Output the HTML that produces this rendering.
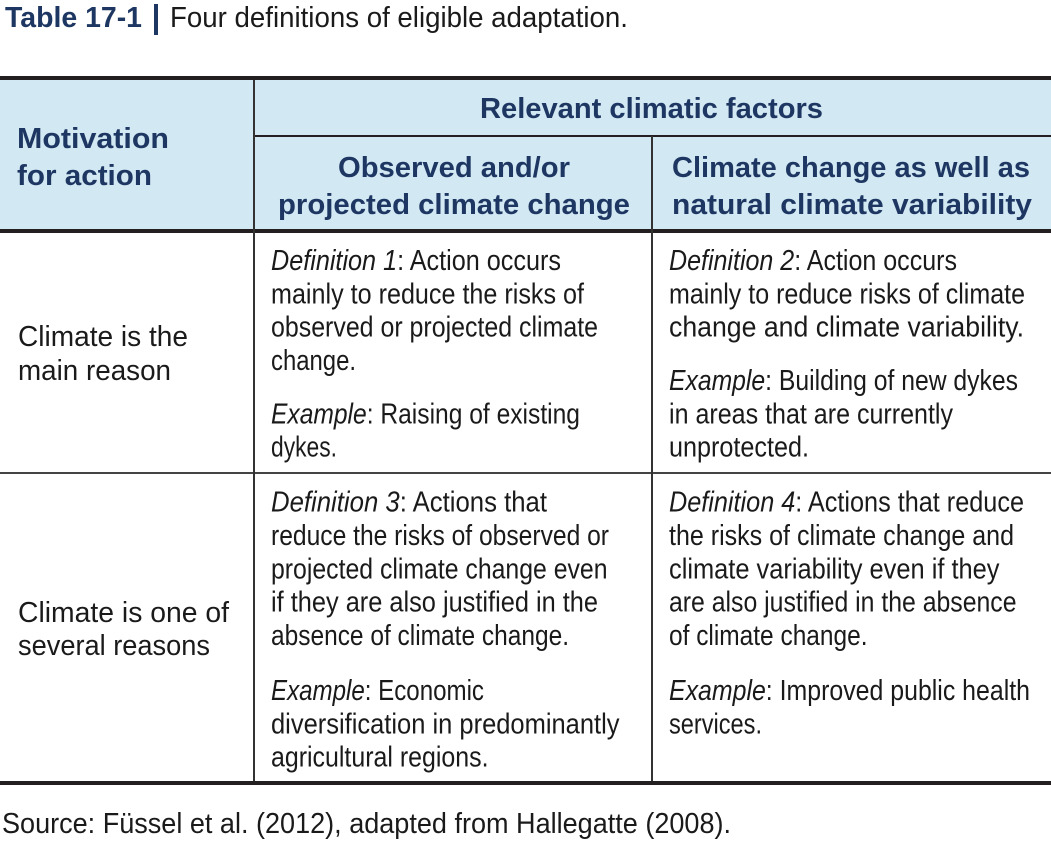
<!DOCTYPE html>
<html>
<head>
<meta charset="utf-8">
<style>
  html,body{margin:0;padding:0;background:#fff;}
  svg{display:block;}
  .b{font-family:"Liberation Sans",Arial,sans-serif;font-weight:bold;fill:#1e3762;font-size:29px;}
  .r{font-family:"Liberation Sans",Arial,sans-serif;fill:#1a1a1a;font-size:29px;}
  .i{font-style:italic;}
</style>
</head>
<body>
<svg width="1051" height="843" viewBox="0 0 1051 843" xmlns="http://www.w3.org/2000/svg">
  <!-- Title -->
  <text class="b" x="5" y="27" font-size="28" textLength="137" lengthAdjust="spacingAndGlyphs">Table 17-1</text>
  <rect x="154" y="4" width="4" height="31" fill="#1e3762"/>
  <text class="r" x="170" y="27" textLength="458" lengthAdjust="spacingAndGlyphs">Four definitions of eligible adaptation.</text>

  <!-- Header background -->
  <rect x="0" y="80" width="1051" height="150" fill="#d2e8f3"/>

  <!-- Lines -->
  <rect x="0" y="76" width="1051" height="4" fill="#231f20"/>
  <rect x="0" y="229" width="1051" height="4" fill="#231f20"/>
  <rect x="0" y="781" width="1051" height="4" fill="#231f20"/>
  <rect x="254" y="135" width="797" height="2" fill="#231f20"/>
  <rect x="0" y="472" width="1051" height="2" fill="#444"/>
  <rect x="253" y="80" width="2" height="701" fill="#333"/>
  <rect x="651" y="136" width="2" height="645" fill="#333"/>

  <!-- Header text -->
  <text class="b" x="17" y="148" textLength="152" lengthAdjust="spacingAndGlyphs">Motivation</text>
  <text class="b" x="17" y="185" textLength="135" lengthAdjust="spacingAndGlyphs">for action</text>
  <text class="b" x="480" y="118" textLength="343" lengthAdjust="spacingAndGlyphs">Relevant climatic factors</text>
  <text class="b" x="338" y="177" textLength="232" lengthAdjust="spacingAndGlyphs">Observed and/or</text>
  <text class="b" x="278" y="214" textLength="352" lengthAdjust="spacingAndGlyphs">projected climate change</text>
  <text class="b" x="672" y="177" textLength="358" lengthAdjust="spacingAndGlyphs">Climate change as well as</text>
  <text class="b" x="672" y="214" textLength="360" lengthAdjust="spacingAndGlyphs">natural climate variability</text>

  <!-- Row 1 label -->
  <text class="r" x="18" y="346" textLength="170" lengthAdjust="spacingAndGlyphs">Climate is the</text>
  <text class="r" x="18" y="380" textLength="153" lengthAdjust="spacingAndGlyphs">main reason</text>

  <!-- Row 1 col 2 -->
  <text class="r" x="271" y="270" textLength="290" lengthAdjust="spacingAndGlyphs"><tspan class="i">Definition 1</tspan>: Action occurs</text>
  <text class="r" x="271" y="303.3" textLength="313" lengthAdjust="spacingAndGlyphs">mainly to reduce the risks of</text>
  <text class="r" x="271" y="336.7" textLength="327" lengthAdjust="spacingAndGlyphs">observed or projected climate</text>
  <text class="r" x="271" y="370" textLength="85" lengthAdjust="spacingAndGlyphs">change.</text>
  <text class="r" x="271" y="423.3" textLength="309" lengthAdjust="spacingAndGlyphs"><tspan class="i">Example</tspan>: Raising of existing</text>
  <text class="r" x="271" y="456.7" textLength="66" lengthAdjust="spacingAndGlyphs">dykes.</text>

  <!-- Row 1 col 3 -->
  <text class="r" x="669" y="270" textLength="288" lengthAdjust="spacingAndGlyphs"><tspan class="i">Definition 2</tspan>: Action occurs</text>
  <text class="r" x="669" y="303.3" textLength="356" lengthAdjust="spacingAndGlyphs">mainly to reduce risks of climate</text>
  <text class="r" x="669" y="336.7" textLength="355" lengthAdjust="spacingAndGlyphs">change and climate variability.</text>
  <text class="r" x="669" y="390" textLength="349" lengthAdjust="spacingAndGlyphs"><tspan class="i">Example</tspan>: Building of new dykes</text>
  <text class="r" x="669" y="423.3" textLength="284" lengthAdjust="spacingAndGlyphs">in areas that are currently</text>
  <text class="r" x="669" y="456.7" textLength="140" lengthAdjust="spacingAndGlyphs">unprotected.</text>

  <!-- Row 2 label -->
  <text class="r" x="18" y="622" textLength="211" lengthAdjust="spacingAndGlyphs">Climate is one of</text>
  <text class="r" x="18" y="655" textLength="192" lengthAdjust="spacingAndGlyphs">several reasons</text>

  <!-- Row 2 col 2 -->
  <text class="r" x="271" y="511.7" textLength="276" lengthAdjust="spacingAndGlyphs"><tspan class="i">Definition 3</tspan>: Actions that</text>
  <text class="r" x="271" y="545" textLength="338" lengthAdjust="spacingAndGlyphs">reduce the risks of observed or</text>
  <text class="r" x="271" y="578.3" textLength="336.5" lengthAdjust="spacingAndGlyphs">projected climate change even</text>
  <text class="r" x="271" y="611.7" textLength="327" lengthAdjust="spacingAndGlyphs">if they are also justified in the</text>
  <text class="r" x="271" y="645" textLength="298" lengthAdjust="spacingAndGlyphs">absence of climate change.</text>
  <text class="r" x="271" y="700" textLength="213" lengthAdjust="spacingAndGlyphs"><tspan class="i">Example</tspan>: Economic</text>
  <text class="r" x="271" y="733.3" textLength="348.5" lengthAdjust="spacingAndGlyphs">diversification in predominantly</text>
  <text class="r" x="271" y="766.7" textLength="217.5" lengthAdjust="spacingAndGlyphs">agricultural regions.</text>

  <!-- Row 2 col 3 -->
  <text class="r" x="669" y="511.7" textLength="355" lengthAdjust="spacingAndGlyphs"><tspan class="i">Definition 4</tspan>: Actions that reduce</text>
  <text class="r" x="669" y="545" textLength="345" lengthAdjust="spacingAndGlyphs">the risks of climate change and</text>
  <text class="r" x="669" y="578.3" textLength="330.5" lengthAdjust="spacingAndGlyphs">climate variability even if they</text>
  <text class="r" x="669" y="611.7" textLength="347.5" lengthAdjust="spacingAndGlyphs">are also justified in the absence</text>
  <text class="r" x="669" y="645" textLength="198.5" lengthAdjust="spacingAndGlyphs">of climate change.</text>
  <text class="r" x="669" y="700" textLength="361" lengthAdjust="spacingAndGlyphs"><tspan class="i">Example</tspan>: Improved public health</text>
  <text class="r" x="669" y="733.3" textLength="93" lengthAdjust="spacingAndGlyphs">services.</text>

  <!-- Source -->
  <text class="r" x="2" y="833" textLength="729" lengthAdjust="spacingAndGlyphs">Source: Füssel et al. (2012), adapted from Hallegatte (2008).</text>
</svg>
</body>
</html>
